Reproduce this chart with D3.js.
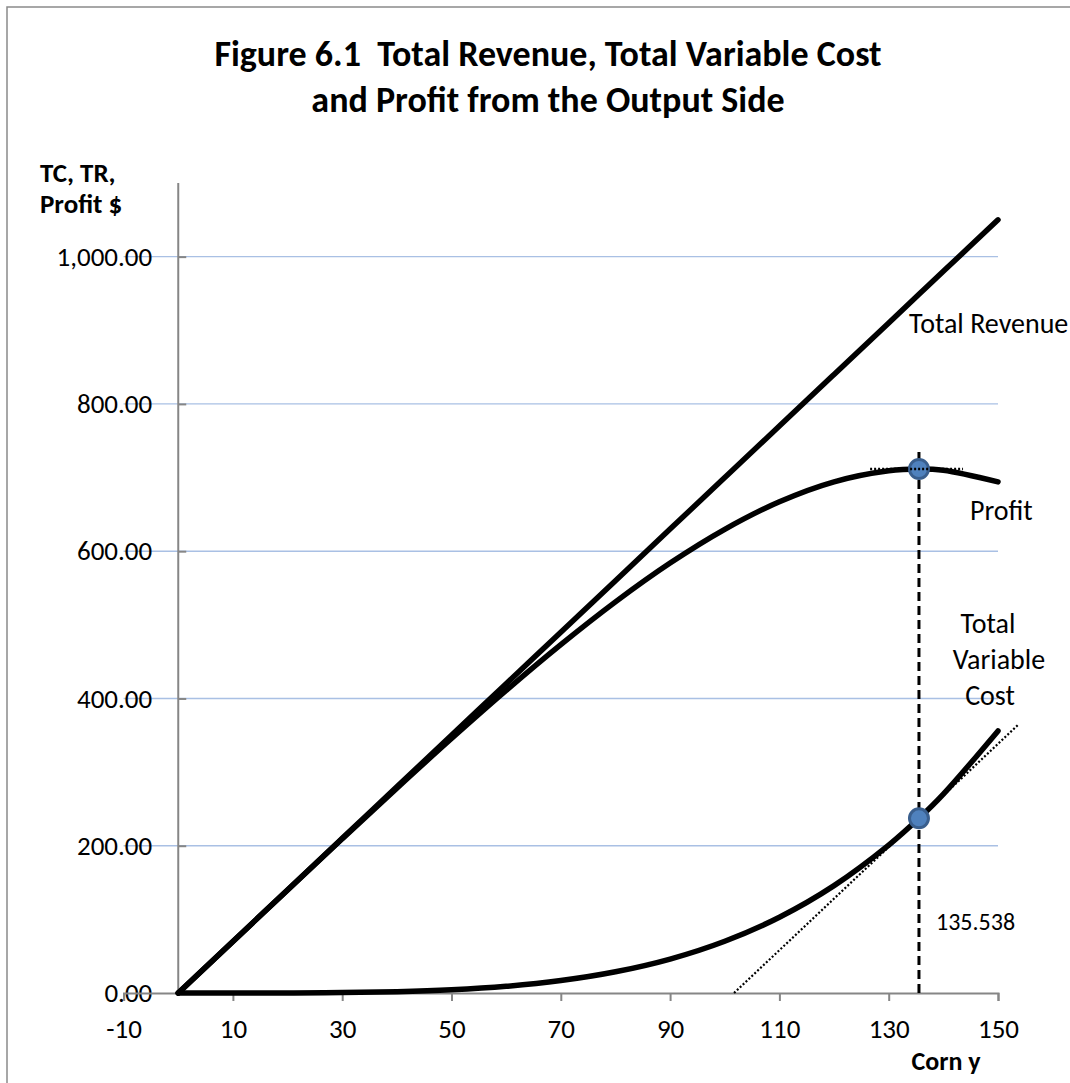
<!DOCTYPE html>
<html>
<head>
<meta charset="utf-8">
<script src="https://cdn.jsdelivr.net/npm/d3@7"></script>
<style>
  body { margin: 0; background: #fff; }
  text { font-family: Carlito, Calibri, Lato, "Open Sans", sans-serif; fill: #000; }
</style>
</head>
<body>
<div id="chart"></div>
<script>
// corn output (y) and the money series
var cornY = [0, 10, 20, 30, 40, 50, 60, 70, 80, 90, 100, 110, 120, 130, 135.538, 140, 150];
var totalRevenue = [0, 70, 140, 210, 280, 350, 420, 490, 560, 630, 700, 770, 840, 910, 948.8, 980, 1050];
var totalVariableCost = [0, 0.01, 0.1, 0.6, 1.8, 4.4, 9.1, 16.9, 28.8, 46.1, 70.3, 102.9, 145.8, 200.8, 237.2, 270.1, 355.9];
var profit = [0, 70, 139.9, 209.4, 278.2, 345.6, 410.9, 473.1, 531.2, 583.9, 629.7, 667.1, 694.2, 709.2, 711.6, 709.9, 694.1];

// optimum and its helper lines
var optY = 135.538;
var optPoints = [{x: 135.538, y: 711.6}, {x: 135.538, y: 237.2}];
var tvcTangent = [{x: 101.7, y: 0}, {x: 153.8, y: 365}];
var profitTangent = [{x: 126.6, y: 711.6}, {x: 143.6, y: 711.6}];
var dropLine = [{x: 135.538, y: 0}, {x: 135.538, y: 741}];

var xTicks = [-10, 10, 30, 50, 70, 90, 110, 130, 150];
var yTicks = [0, 200, 400, 600, 800, 1000];

var W = 1070, H = 1083;

var svg = d3.select("#chart").append("svg")
    .attr("width", W)
    .attr("height", H);

// chart area border (runs off the right / bottom of the picture)
svg.append("rect")
  .attr("x", 7).attr("y", 7)
  .attr("width", W + 20).attr("height", H + 20)
  .attr("fill", "#fff")
  .attr("stroke", "#8a8a8a")
  .attr("stroke-width", 1.5);

var x = d3.scaleLinear().domain([-10, 150]).range([123.6, 998]);
var y = d3.scaleLinear().domain([0, 1100]).range([993, 183]);

// gridlines
svg.append("g")
  .selectAll("line")
  .data(yTicks.filter(function(d) { return d > 0; }))
  .enter().append("line")
  .attr("x1", x(-10)).attr("x2", x(150))
  .attr("y1", function(d) { return y(d); })
  .attr("y2", function(d) { return y(d); })
  .attr("stroke", "#a9c0e4")
  .attr("stroke-width", 1.4);

// y axis sits at x = 0, ticks point inward
var yAxis = svg.append("g")
  .attr("transform", "translate(" + x(0) + ",0)")
  .call(d3.axisLeft(y)
    .tickValues(yTicks)
    .tickSize(-8)
    .tickPadding(26)
    .tickFormat(d3.format(",.2f")));

// x axis along y = 0
var xAxis = svg.append("g")
  .attr("transform", "translate(0," + y(0) + ")")
  .call(d3.axisBottom(x)
    .tickValues(xTicks)
    .tickSize(8)
    .tickPadding(18)
    .tickFormat(function(d) { return d < 0 ? "-" + Math.abs(d) : d; }));

[yAxis, xAxis].forEach(function(a) {
  a.select(".domain").attr("stroke", "#868686").attr("stroke-width", 2);
  a.selectAll(".tick line").attr("stroke", "#868686").attr("stroke-width", 2);
  a.selectAll("text").attr("font-size", 27).attr("font-family", null).attr("fill", "#000");
});
yAxis.select(".domain").attr("d", "M0," + y(0) + "V" + y(1100));
xAxis.selectAll("text").attr("dy", "0.71em");

// curves
var line = d3.line()
  .x(function(d) { return x(d[0]); })
  .y(function(d) { return y(d[1]); })
  .curve(d3.curveCatmullRom);

var curves = [totalRevenue, profit, totalVariableCost];
svg.append("g")
  .selectAll("path")
  .data(curves)
  .enter().append("path")
  .attr("d", function(s) { return line(d3.zip(cornY, s)); })
  .attr("fill", "none")
  .attr("stroke", "#000")
  .attr("stroke-width", 5.5)
  .attr("stroke-linecap", "round")
  .attr("stroke-linejoin", "round");

var seg = d3.line()
  .x(function(d) { return x(d.x); })
  .y(function(d) { return y(d.y); });

// tangent to TVC (slope = price)
svg.append("path")
  .attr("d", seg(tvcTangent))
  .attr("fill", "none")
  .attr("stroke", "#000")
  .attr("stroke-width", 2.2)
  .attr("stroke-dasharray", "2,2");

// vertical drop line at the optimum
svg.append("path")
  .attr("d", seg(dropLine))
  .attr("fill", "none")
  .attr("stroke", "#000")
  .attr("stroke-width", 3)
  .attr("stroke-dasharray", "9,5");

svg.append("g")
  .selectAll("circle")
  .data(optPoints)
  .enter().append("circle")
  .attr("cx", function(d) { return x(d.x); })
  .attr("cy", function(d) { return y(d.y); })
  .attr("r", 9.5)
  .attr("fill", "#4f81bd")
  .attr("stroke", "#3a5f8e")
  .attr("stroke-width", 3);

// flat tangent at max profit
svg.append("path")
  .attr("d", seg(profitTangent))
  .attr("fill", "none")
  .attr("stroke", "#000")
  .attr("stroke-width", 2.5)
  .attr("stroke-dasharray", "2,2");

// titles
var title = svg.append("text")
  .attr("text-anchor", "middle")
  .attr("font-weight", "bold")
  .attr("font-size", 36);
title.append("tspan").attr("x", 548).attr("y", 66).text("Figure 6.1\u00a0 Total Revenue, Total Variable Cost");
title.append("tspan").attr("x", 548).attr("y", 112).text("and Profit from the Output Side");

var yTitle = svg.append("text")
  .attr("font-weight", "bold")
  .attr("font-size", 27);
yTitle.append("tspan").attr("x", 40).attr("y", 182).text("TC, TR,");
yTitle.append("tspan").attr("x", 40).attr("y", 213).text("Profit $");

svg.append("text")
  .attr("x", 946).attr("y", 1070)
  .attr("text-anchor", "middle")
  .attr("font-weight", "bold")
  .attr("font-size", 26)
  .text("Corn y");

// series labels
svg.append("text").attr("x", 909).attr("y", 333).attr("font-size", 28).text("Total Revenue");
svg.append("text").attr("x", 970).attr("y", 520).attr("font-size", 28).text("Profit");

var tvcLab = svg.append("text").attr("text-anchor", "middle").attr("font-size", 28);
tvcLab.append("tspan").attr("x", 988).attr("y", 633).text("Total");
tvcLab.append("tspan").attr("x", 999).attr("y", 669).text("Variable");
tvcLab.append("tspan").attr("x", 990).attr("y", 705).text("Cost");

svg.append("text")
  .attr("x", 936).attr("y", 930)
  .attr("font-size", 24)
  .text(optY);
</script>
</body>
</html>
